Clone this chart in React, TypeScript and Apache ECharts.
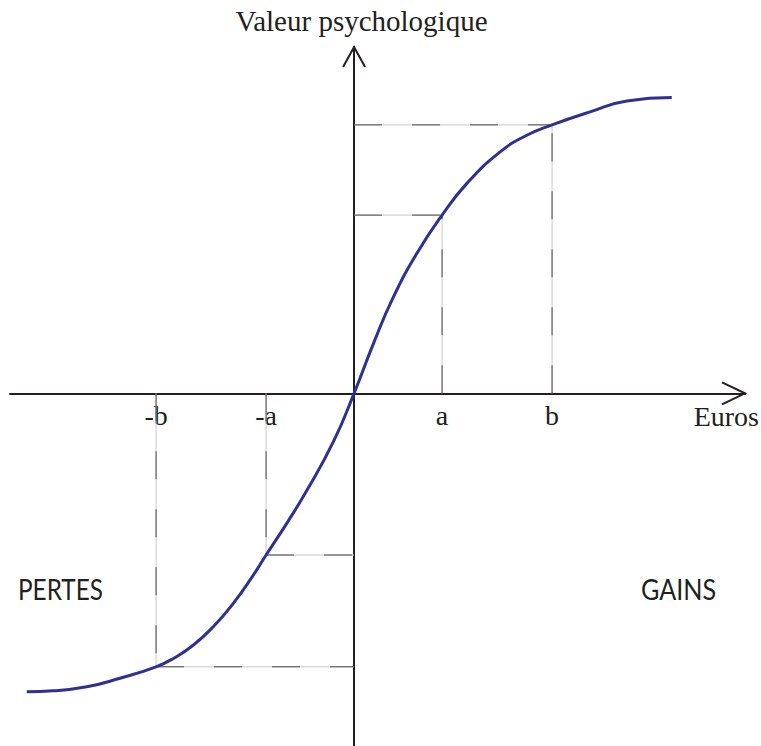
import React, { useEffect, useRef } from 'react';
import * as echarts from 'echarts';

// Axis domains (arbitrary units: a = 4, b = 9)
const X_MIN = -15.64;
const X_MAX = 17.77;
const Y_MIN = -16.03;
const Y_MAX = 15.74;

// S-shaped value function
const curveX = [-14.88, -13.67, -12.15, -10.64, -9, -8.21, -7.3, -6.4, -5.49, -4.58, -4, -3.06, -2.15, -0.94, 0, 0.88, 1.79, 2.85, 4, 5.12, 6.64, 7.85, 9, 10.73, 12.4, 14.44];
const curveY = [-13.56, -13.52, -13.34, -12.95, -12.43, -12.05, -11.44, -10.61, -9.55, -8.26, -7.35, -5.91, -4.42, -2.2, 0, 2.26, 4.38, 6.35, 8.1, 9.53, 10.97, 11.73, 12.2, 12.79, 13.29, 13.44];

// Reference points (a, b, -a, -b) and their values
const refX = [4, 9, -4, -9];
const refY = [8.1, 12.2, -7.35, -12.43];

// Tick labels on the euros axis
const tickValues = [-9, -4, 4, 9];
const tickLabels = ['-b', '-a', 'a', 'b'];

const INK = '#231f20';
const SERIF = '"Liberation Serif", "Times New Roman", serif';
const SANS = 'Lato, "Noto Sans", sans-serif';

function dashedPair(data: number[][]) {
  return [
    {
      type: 'line',
      data,
      symbol: 'none',
      silent: true,
      z: 1,
      lineStyle: { color: '#c8c8c8', width: 1, type: 'solid' },
    },
    {
      type: 'line',
      data,
      symbol: 'none',
      silent: true,
      z: 2,
      lineStyle: { color: '#4a4a4a', width: 1, type: [28, 30] },
    },
  ];
}

export default function App() {
  const ref = useRef<HTMLDivElement>(null);
  useEffect(() => {
    document.body.style.margin = '0';
    const chart = echarts.init(ref.current!, null, { renderer: 'svg' });

    const series: any[] = [];
    refX.forEach((x, i) => {
      const y = refY[i];
      series.push(...dashedPair([[x, 0], [x, y]]));
      if (x > 0) series.push(...dashedPair([[0, y], [x, y]]));
      else series.push(...dashedPair([[x, y], [0, y]]));
    });
    series.push({
      type: 'line',
      data: curveX.map((x, i) => [x, curveY[i]]),
      smooth: 0.5,
      symbol: 'none',
      silent: true,
      z: 5,
      lineStyle: { color: '#2e3192', width: 3 },
    });

    chart.setOption({
      animation: false,
      backgroundColor: '#ffffff',
      grid: { left: 10, right: 16, top: 47, bottom: 0, containLabel: false, outerBoundsMode: 'none' },
      xAxis: {
        type: 'value',
        min: X_MIN,
        max: X_MAX,
        axisLine: { show: true, onZero: true, lineStyle: { color: INK, width: 2 } },
        axisTick: { show: false },
        splitLine: { show: false },
        axisLabel: { show: false },
      },
      yAxis: {
        type: 'value',
        min: Y_MIN,
        max: Y_MAX,
        axisLine: { show: true, onZero: true, lineStyle: { color: INK, width: 2 } },
        axisTick: { show: false },
        splitLine: { show: false },
        axisLabel: { show: false },
      },
      series,
    });

    const top = chart.convertToPixel({ gridIndex: 0 }, [0, Y_MAX]) as number[];
    const right = chart.convertToPixel({ gridIndex: 0 }, [X_MAX, 0]) as number[];

    const tickTexts = tickValues.map((v, i) => {
      const p = chart.convertToPixel({ gridIndex: 0 }, [v, 0]) as number[];
      return {
        type: 'text',
        x: p[0],
        y: p[1] + 22,
        style: { text: tickLabels[i], font: `28px ${SERIF}`, fill: INK, align: 'center', verticalAlign: 'middle' },
      };
    });

    chart.setOption({
      graphic: [
        {
          type: 'polyline',
          shape: { points: [[top[0] - 11, top[1] + 20], [top[0], top[1]], [top[0] + 11, top[1] + 20]] },
          style: { stroke: INK, lineWidth: 2, fill: 'none' },
          z: 10,
        },
        {
          type: 'polyline',
          shape: { points: [[right[0] - 23, right[1] - 11], [right[0], right[1]], [right[0] - 23, right[1] + 11]] },
          style: { stroke: INK, lineWidth: 2, fill: 'none' },
          z: 10,
        },
        ...tickTexts,
        {
          type: 'text',
          x: 361.5,
          y: 20.5,
          style: { text: 'Valeur psychologique', font: `29px ${SERIF}`, fill: INK, align: 'center', verticalAlign: 'middle' },
        },
        {
          type: 'text',
          x: 759,
          y: 416.5,
          style: { text: 'Euros', font: `28px ${SERIF}`, fill: INK, align: 'right', verticalAlign: 'middle' },
        },
        {
          type: 'text',
          x: 18,
          y: 589,
          scaleX: 0.87,
          style: { text: 'PERTES', font: `28px ${SANS}`, fill: INK, align: 'left', verticalAlign: 'middle' },
        },
        {
          type: 'text',
          x: 641,
          y: 589,
          scaleX: 0.9,
          style: { text: 'GAINS', font: `28px ${SANS}`, fill: INK, align: 'left', verticalAlign: 'middle' },
        },
      ],
    });

    return () => chart.dispose();
  }, []);
  return <div ref={ref} style={{ width: 761, height: 746 }} />;
}
